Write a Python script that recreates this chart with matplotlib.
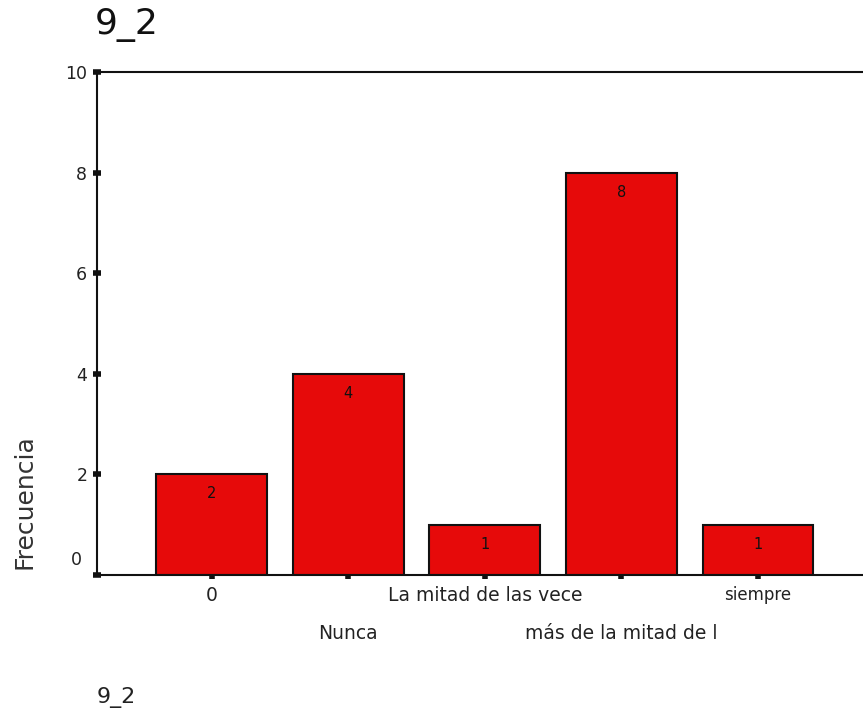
import matplotlib
matplotlib.use("Agg")
import matplotlib.pyplot as plt
import matplotlib.transforms as mtransforms

categories = ["0", "Nunca", "La mitad de las vece", "más de la mitad de l", "siempre"]
counts = [2, 4, 1, 8, 1]
yticks = [0, 2, 4, 6, 8, 10]
title = "9_2"
ylabel = "Frecuencia"

fig = plt.figure(figsize=(8.63, 7.14), dpi=100)
ax = fig.add_axes([97/863, 1-575/714, 1-97/863, (575-72)/714])

x = list(range(len(categories)))
bars = ax.bar(x, counts, width=0.81, color="#E60A0A", edgecolor="#111111", linewidth=1.5, zorder=2)

for xi, c in zip(x, counts):
    ax.annotate(str(c), (xi, c), xytext=(0, -14), textcoords="offset points",
                ha="center", va="center", fontsize=10.5, color="#111111")

ax.set_xlim(-0.84, 4.77)
ax.set_ylim(0, 10)
ax.spines["right"].set_visible(False)
for s in ["left", "top", "bottom"]:
    ax.spines[s].set_linewidth(1.5)
    ax.spines[s].set_color("#111111")

ax.set_yticks(yticks)
ax.set_yticklabels(["" if v == 0 else str(v) for v in yticks], fontsize=12.5, color="#222222")
ax.text(-0.84, 0, "0", transform=ax.transData + mtransforms.ScaledTranslation(-11/72, 4.5/72, fig.dpi_scale_trans),
        ha="right", va="bottom", fontsize=12.5, color="#222222")
ax.tick_params(axis="y", direction="inout", length=6, width=4, pad=4, color="#111111")

ax.set_xticks(x)
ax.set_xticklabels(categories, fontsize=13.5, color="#222222")
ax.tick_params(axis="x", direction="inout", length=6, width=4, pad=5, color="#111111")
for i, t in enumerate(ax.xaxis.get_major_ticks()):
    if i % 2 == 1:
        t.set_pad(32)
ax.xaxis.get_major_ticks()[4].label1.set_fontsize(12)

fig.text(25/863, 1-502/714, ylabel, rotation=90, ha="center", va="center", fontsize=18, color="#333333")
fig.text(95/863, 1-25/714, title, ha="left", va="center", fontsize=26, color="#111111")
fig.text(97/863, 1-697/714, title, ha="left", va="center", fontsize=16, color="#222222")

fig.savefig("out.png", dpi=100)
